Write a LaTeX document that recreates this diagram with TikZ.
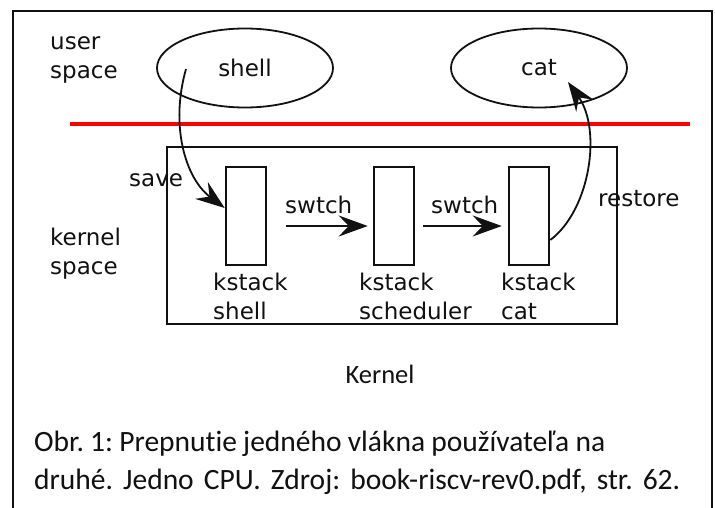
\documentclass[tikz,border=0pt]{standalone}
\usepackage{fontspec}
\setmainfont{DejaVu Sans}
\newfontfamily\capfont[Ligatures=NoCommon]{Carlito}
\usepackage{tikz}
\usetikzlibrary{arrows.meta,shapes.geometric}
\definecolor{Ink}{HTML}{111111}
\definecolor{Rule}{HTML}{FF0000}
\tikzset{
  bigarrow/.style={-{Stealth[length=29pt,width=21pt,inset=10pt]},line width=1.8pt,draw=Ink},
  procnode/.style={ellipse,draw=Ink,line width=1.8pt,minimum width=176pt,minimum height=79pt,
    inner sep=0pt,text=Ink,font=\fontsize{23}{29}\selectfont},
  stackbox/.style={rectangle,draw=Ink,line width=2.6pt,minimum width=40pt,minimum height=98pt,inner sep=0pt},
  lbl/.style={inner sep=0pt,text=Ink,align=left,font=\fontsize{23}{29}\selectfont},
  caplbl/.style={inner sep=0pt,text=Ink,font=\capfont\fontsize{29.5}{36}\selectfont\frenchspacing},
}

\begin{document}
\begin{tikzpicture}[x=1pt,y=-1pt]
    \useasboundingbox (0,0) rectangle (715,508);
    \fill[white] (0,0) rectangle (715,508);
    \draw[Ink,line width=2pt] (13,508) -- (13,11) -- (712,11) -- (712,508);

    % user space
    \node[lbl,anchor=base west] (userlbl) at (50,79) {user\\space};
    \node[procnode] (shell) at (245,68) {shell};
    \node[procnode] (cat) at (539,68) {cat};
    \draw[Rule,line width=3.5pt] (70,124) -- (690,124);

    % kernel space
    \node[lbl,anchor=base west] (kernlbl) at (50,274) {kernel\\space};
    \node[draw=Ink,line width=2.2pt,minimum width=450pt,minimum height=177pt,inner sep=0pt] (kernel) at (392,235.5) {};
    \node[stackbox] (ks1) at (246,216) {};
    \node[stackbox] (ks2) at (394,216) {};
    \node[stackbox] (ks3) at (529,216) {};
    \node[lbl,anchor=north west] (ks1lbl) at (213,273) {kstack\\shell};
    \node[lbl,anchor=north west] (ks2lbl) at (359,273) {kstack\\scheduler};
    \node[lbl,anchor=north west] (ks3lbl) at (501,273) {kstack\\cat};

    \node[lbl,anchor=base west] (savelbl) at (129,186) {save};
    \node[lbl,anchor=base west] (sw1lbl) at (285,213) {swtch};
    \node[lbl,anchor=base west] (sw2lbl) at (431,213) {swtch};
    \node[lbl,anchor=base west] (restlbl) at (598,206) {restore};

    \coordinate (savefrom) at (186,69);
    \draw[bigarrow] (savefrom) .. controls (170,125) and (185,178) .. ([yshift=8pt]ks1.west);
    \draw[bigarrow,shorten <=19pt,shorten >=5pt] ([yshift=-10pt]ks1.east) -- ([yshift=-10pt]ks2.west);
    \draw[bigarrow,shorten <=8pt,shorten >=6pt] ([yshift=-10pt]ks2.east) -- ([yshift=-10pt]ks3.west);
    \coordinate (restto) at (568,82);
    \draw[bigarrow] ([yshift=-24pt]ks3.east) .. controls (590,210) and (602,130) .. (restto);

    % caption
    \node[caplbl,anchor=base,font=\capfont\fontsize{26.5}{30}\selectfont] (kernname) at (380,383) {Kernel};
    \node[caplbl,anchor=base west] (capA) at (34,451)
      {\makebox[571pt][s]{Obr. 1: Prepnutie jedného vlákna používateľa na}};
    \node[caplbl,anchor=base west] (capB) at (34,489)
      {\makebox[646pt][s]{druhé. Jedno CPU. Zdroj: book-riscv-rev0.pdf, str. 62.}};
\end{tikzpicture}
\end{document}
